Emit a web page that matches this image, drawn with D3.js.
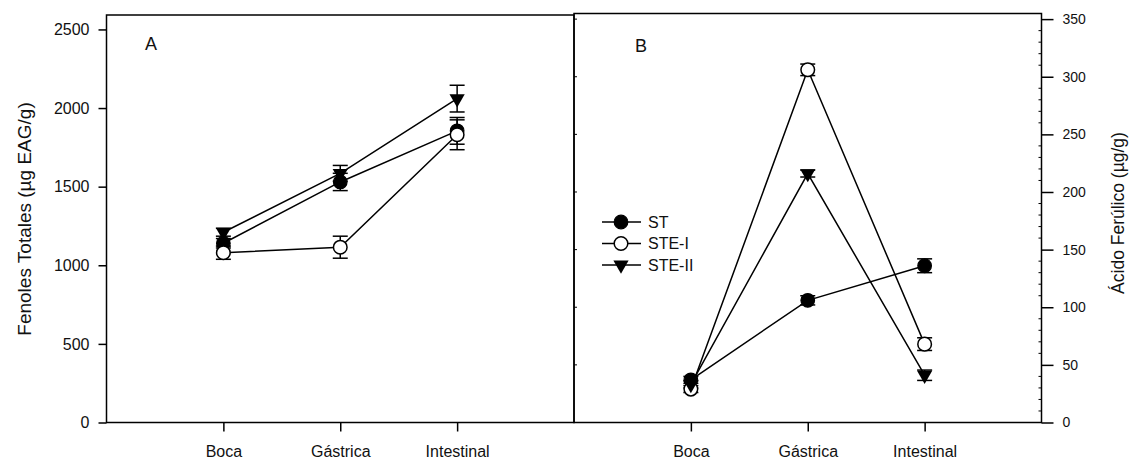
<!DOCTYPE html>
<html>
<head>
<meta charset="utf-8">
<script src="https://cdn.jsdelivr.net/npm/d3@7"></script>
<style>
  body { margin: 0; background: #fff; }
  svg { font-family: Arial, "Liberation Sans", sans-serif; }
</style>
</head>
<body>
<div id="chart"></div>
<script>
// stages of digestion
var stages = ["Boca", "Gástrica", "Intestinal"];
var seriesNames = ["ST", "STE-I", "STE-II"];

// panel A - fenoles totales (ug EAG/g)
var fenolesST = [1140, 1530, 1855];
var fenolesSTErr = [30, 55, 85];
var fenolesSTE1 = [1080, 1115, 1830];
var fenolesSTE1Err = [42, 70, 95];
var fenolesSTE2 = [1210, 1585, 2060];
var fenolesSTE2Err = [25, 50, 85];
var fenolesTicks = [0, 500, 1000, 1500, 2000, 2500];

// panel B - acido ferulico (ug/g)
var ferulicoST = [37, 106, 136];
var ferulicoSTErr = [3, 4, 6];
var ferulicoSTE1 = [29, 306, 68];
var ferulicoSTE1Err = [3, 5, 5.5];
var ferulicoSTE2 = [33, 216, 41];
var ferulicoSTE2Err = [3, 3, 4.5];
var ferulicoTicks = [0, 50, 100, 150, 200, 250, 300, 350];

var svg = d3.select("#chart")
  .append("svg")
  .attr("width", 1131)
  .attr("height", 460);

var plotTop = 14.5, plotBottom = 422.5;
var leftA = 106.5, split = 574, rightB = 1041.5;

var xA = d3.scaleLinear().domain([0, 4]).range([leftA, split]);
var yA = d3.scaleLinear().domain([0, 2595]).range([plotBottom, plotTop]);
var xB = d3.scaleLinear().domain([0, 4]).range([split, rightB]);
var yB = d3.scaleLinear().domain([0, 354]).range([plotBottom, plotTop]);

var triangle = d3.symbol().type(d3.symbolTriangle).size(100);

function drawMarker(g, kind, x, y) {
  if (kind == 0) {
    g.append("circle").attr("cx", x).attr("cy", y).attr("r", 6.8)
      .attr("fill", "#000").attr("stroke", "#000").attr("stroke-width", 1.2);
  } else if (kind == 1) {
    g.append("circle").attr("cx", x).attr("cy", y).attr("r", 6.8)
      .attr("fill", "#fff").attr("stroke", "#000").attr("stroke-width", 1.5);
  } else {
    g.append("path").attr("d", triangle)
      .attr("transform", "translate(" + x + "," + y + ") rotate(180)")
      .attr("fill", "#000");
  }
}

function drawPanel(x, y, series, errs) {
  var g = svg.append("g");
  var line = d3.line()
    .x(function(d, i) { return x(i + 1); })
    .y(function(d) { return y(d); });

  series.forEach(function(s) {
    g.append("path").datum(s).attr("d", line)
      .attr("fill", "none").attr("stroke", "#000").attr("stroke-width", 1.5);
  });

  series.forEach(function(s, k) {
    s.forEach(function(v, i) {
      var cx = x(i + 1), hi = y(v + errs[k][i]), lo = y(v - errs[k][i]);
      g.append("line").attr("x1", cx).attr("x2", cx).attr("y1", hi).attr("y2", lo)
        .attr("stroke", "#000").attr("stroke-width", 1.5);
      [hi, lo].forEach(function(yy) {
        g.append("line").attr("x1", cx - 7.5).attr("x2", cx + 7.5).attr("y1", yy).attr("y2", yy)
          .attr("stroke", "#000").attr("stroke-width", 1.5);
      });
    });
  });

  series.forEach(function(s, k) {
    s.forEach(function(v, i) { drawMarker(g, k, x(i + 1), y(v)); });
  });
}

// boxes
svg.append("rect").attr("x", leftA).attr("y", 15).attr("width", split - leftA).attr("height", plotBottom - 15)
  .attr("fill", "none").attr("stroke", "#000").attr("stroke-width", 1.5);
svg.append("rect").attr("x", split).attr("y", 13.5).attr("width", rightB - split).attr("height", plotBottom - 13.5)
  .attr("fill", "none").attr("stroke", "#000").attr("stroke-width", 1.5);

// left axis
var axisA = svg.append("g").attr("transform", "translate(" + leftA + ",0)")
  .call(d3.axisLeft(yA).tickValues(fenolesTicks).tickSize(8).tickPadding(9)
    .tickFormat(d3.format("d")));
axisA.select(".domain").remove();
axisA.selectAll("line").attr("stroke-width", 1.5);
axisA.selectAll("text").attr("font-size", "16px").attr("fill", "#111");

// right axis
var axisB = svg.append("g").attr("transform", "translate(" + rightB + ",0)")
  .call(d3.axisRight(yB).tickValues(ferulicoTicks).tickSize(12).tickPadding(9)
    .tickFormat(d3.format("d")));
axisB.select(".domain").remove();
axisB.selectAll("line").attr("stroke-width", 1.5);
axisB.selectAll("text").attr("font-size", "14px").attr("fill", "#111");

// minor ticks on right axis, pointing inward
var minorB = d3.range(0, 351, 10).filter(function(v) { return v % 50 != 0; });
svg.append("g").selectAll("line").data(minorB).enter().append("line")
  .attr("x1", rightB - 3).attr("x2", rightB)
  .attr("y1", yB).attr("y2", yB)
  .attr("stroke", "#000").attr("stroke-width", 1);

// small inward ticks on left edge of panel B
svg.append("g").selectAll("line").data(ferulicoTicks.slice(1)).enter().append("line")
  .attr("x1", split).attr("x2", split + 3)
  .attr("y1", yB).attr("y2", yB)
  .attr("stroke", "#000").attr("stroke-width", 1);

// x axes
[xA, xB].forEach(function(sc) {
  var ax = svg.append("g").attr("transform", "translate(0," + plotBottom + ")")
    .call(d3.axisBottom(sc).tickValues([1, 2, 3]).tickSize(9).tickPadding(14)
      .tickFormat(function(d) { return stages[d - 1]; }));
  ax.select(".domain").remove();
  ax.selectAll("line").attr("stroke-width", 1.5);
  ax.selectAll("text").attr("font-size", "16px").attr("fill", "#111");
});

drawPanel(xA, yA, [fenolesST, fenolesSTE1, fenolesSTE2],
  [fenolesSTErr, fenolesSTE1Err, fenolesSTE2Err]);
drawPanel(xB, yB, [ferulicoST, ferulicoSTE1, ferulicoSTE2],
  [ferulicoSTErr, ferulicoSTE1Err, ferulicoSTE2Err]);

// panel letters
svg.append("text").attr("x", 145).attr("y", 50).attr("font-size", "18px").attr("fill", "#111").text("A");
svg.append("text").attr("x", 635).attr("y", 52).attr("font-size", "18px").attr("fill", "#111").text("B");

// axis titles
svg.append("text")
  .attr("transform", "translate(31,219) rotate(-90)")
  .attr("text-anchor", "middle").attr("font-size", "19px").attr("fill", "#111")
  .text("Fenoles Totales (µg EAG/g)");
svg.append("text")
  .attr("transform", "translate(1124,213) rotate(-90)")
  .attr("text-anchor", "middle").attr("font-size", "17.5px").attr("fill", "#111")
  .text("Ácido Ferúlico (µg/g)");

// legend
var legend = svg.append("g");
seriesNames.forEach(function(name, k) {
  var ly = 222 + k * 21.5;
  legend.append("line").attr("x1", 602).attr("x2", 641).attr("y1", ly).attr("y2", ly)
    .attr("stroke", "#000").attr("stroke-width", 1.5);
  drawMarker(legend, k, 621, ly);
  legend.append("text").attr("x", 648).attr("y", ly + 5.5)
    .attr("font-size", "16px").attr("fill", "#111").text(name);
});
</script>
</body>
</html>
